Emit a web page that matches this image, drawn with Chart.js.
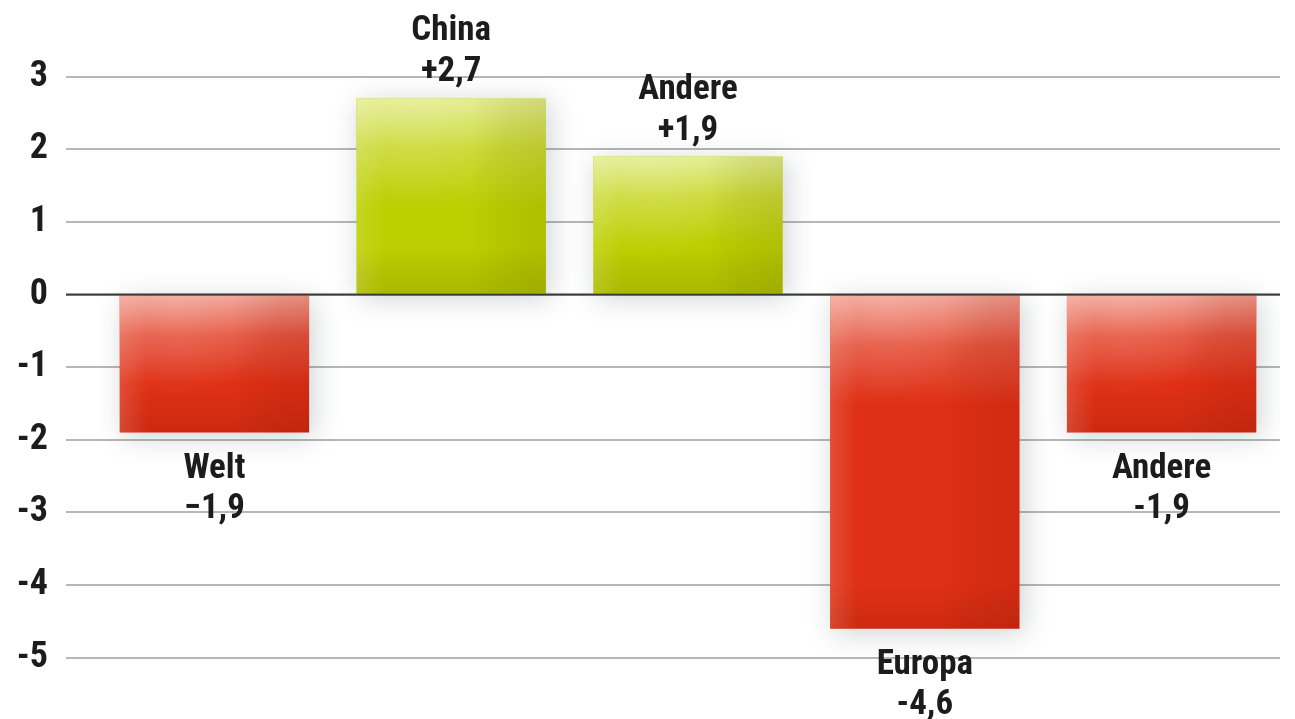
<!DOCTYPE html>
<html>
<head>
<meta charset="utf-8">
<script src="https://cdn.jsdelivr.net/npm/chart.js@4"></script>
<style>
  html, body { margin: 0; padding: 0; background: #fff; }
  #wrap { width: 1295px; height: 719px; }
</style>
</head>
<body>
<div id="wrap"><canvas id="bar-chart" width="1295" height="719"></canvas></div>
<script>
const categories = ["Welt", "China", "Andere", "Europa", "Andere"];
const values = [-1.9, 2.7, 1.9, -4.6, -1.9];
const minusSigns = ["\u2212", "-", "-", "-", "-"];
const tickValues = [-5, -4, -3, -2, -1, 0, 1, 2, 3];

const FONT = "'Liberation Sans Narrow', 'Arial Narrow', 'Roboto Condensed', 'DejaVu Sans Condensed', sans-serif";
const RED = "#df2f14";
const GREEN = "#bccf00";

function valueText(v, i) {
  const sign = v > 0 ? "+" : v < 0 ? minusSigns[i] : "";
  return sign + Math.abs(v).toFixed(1).replace(".", ",");
}

// soft drop shadow behind the bars
const barShadow = {
  id: "barShadow",
  beforeDatasetsDraw(chart) {
    const ctx = chart.ctx;
    ctx.save();
    ctx.shadowColor = "rgba(40,50,60,0.22)";
    ctx.shadowBlur = 26;
    ctx.shadowOffsetX = 4;
    ctx.shadowOffsetY = 4;
  },
  afterDatasetsDraw(chart) {
    chart.ctx.restore();
  }
};

// glossy shading on top of every bar, then zero line and labels
const barShading = {
  id: "barShading",
  afterDatasetsDraw(chart) {
    const ctx = chart.ctx;
    const meta = chart.getDatasetMeta(0);
    const y = chart.scales.y;

    meta.data.forEach((bar, i) => {
      const p = bar.getProps(["x", "y", "base", "width"], true);
      const left = p.x - p.width / 2;
      const right = p.x + p.width / 2;
      const top = Math.min(p.y, p.base);
      const bottom = Math.max(p.y, p.base);
      const h = bottom - top;
      const pos = values[i] > 0;

      ctx.save();
      ctx.beginPath();
      ctx.rect(left, top, p.width, h);
      ctx.clip();

      // light from above, strongest towards the upper left
      const hl = Math.min(110, h * 0.65);
      let g = ctx.createLinearGradient(0, top, 0, top + hl);
      g.addColorStop(0, pos ? "rgba(255,255,235,0.6)" : "rgba(255,235,230,0.6)");
      g.addColorStop(0.45, pos ? "rgba(255,255,235,0.22)" : "rgba(255,235,230,0.2)");
      g.addColorStop(1, "rgba(255,255,255,0)");
      ctx.fillStyle = g;
      ctx.fillRect(left, top, p.width, hl);

      g = ctx.createRadialGradient(left + p.width * 0.3, top, 0, left + p.width * 0.3, top, p.width * 0.55);
      g.addColorStop(0, "rgba(255,255,255,0.18)");
      g.addColorStop(1, "rgba(255,255,255,0)");
      ctx.fillStyle = g;
      ctx.fillRect(left, top, p.width, h);

      // darker bottom
      g = ctx.createLinearGradient(0, bottom - 45, 0, bottom);
      g.addColorStop(0, "rgba(90,40,0,0)");
      g.addColorStop(1, pos ? "rgba(90,90,0,0.18)" : "rgba(110,10,0,0.16)");
      ctx.fillStyle = g;
      ctx.fillRect(left, bottom - 45, p.width, 45);

      // lighter left edge, darker right side
      g = ctx.createLinearGradient(left, 0, right, 0);
      g.addColorStop(0, "rgba(255,255,255,0.14)");
      g.addColorStop(0.15, "rgba(255,255,255,0)");
      g.addColorStop(0.6, "rgba(0,0,0,0)");
      g.addColorStop(1, pos ? "rgba(80,80,0,0.12)" : "rgba(120,10,0,0.12)");
      ctx.fillStyle = g;
      ctx.fillRect(left, top, p.width, h);
      ctx.restore();
    });

    // zero line over the bars
    const y0 = y.getPixelForValue(0);
    ctx.save();
    ctx.strokeStyle = "#3a3a3a";
    ctx.lineWidth = 2;
    ctx.beginPath();
    ctx.moveTo(chart.chartArea.left - 30, y0);
    ctx.lineTo(chart.chartArea.right, y0);
    ctx.stroke();

    // category and value labels
    ctx.fillStyle = "#1c1c1c";
    ctx.font = "bold 35px " + FONT;
    ctx.textAlign = "center";
    ctx.textBaseline = "alphabetic";
    meta.data.forEach((bar, i) => {
      const v = values[i];
      const lines = [categories[i], valueText(v, i)];
      if (v > 0) {
        ctx.fillText(lines[0], bar.x, bar.y - 58);
        ctx.fillText(lines[1], bar.x, bar.y - 17);
      } else {
        ctx.fillText(lines[0], bar.x, bar.y + 45);
        ctx.fillText(lines[1], bar.x, bar.y + 85);
      }
    });
    ctx.restore();
  }
};

const barChart = document.querySelector("#bar-chart").getContext("2d");

new Chart(barChart, {
  type: "bar",
  data: {
    labels: categories,
    datasets: [
      {
        data: values,
        backgroundColor: values.map((v) => (v > 0 ? GREEN : RED)),
        borderWidth: 0,
        categoryPercentage: 1,
        barPercentage: 0.8,
      },
    ],
  },
  options: {
    responsive: false,
    devicePixelRatio: 1,
    animation: false,
    layout: { padding: { top: 4, bottom: 25, right: 15, left: 0 } },
    plugins: {
      legend: { display: false },
      tooltip: { enabled: false },
    },
    scales: {
      x: { display: false },
      y: {
        min: -5.5,
        max: 4,
        afterBuildTicks(scale) {
          scale.ticks = tickValues.map((value) => ({ value }));
        },
        afterFit(scale) {
          // tick labels sit well inside the range, no extra room needed
          scale.width = 96;
          scale.paddingTop = 0;
          scale.paddingBottom = 0;
        },
        border: { display: false },
        grid: {
          color: "#b7b7b7",
          tickColor: "#b7b7b7",
          lineWidth: 2,
          tickLength: 30,
        },
        ticks: {
          padding: 18,
          color: "#1c1c1c",
          font: { family: FONT, size: 36, weight: "bold" },
          callback: (v) => String(v),
        },
      },
    },
  },
  plugins: [barShadow, barShading],
});
</script>
</body>
</html>
